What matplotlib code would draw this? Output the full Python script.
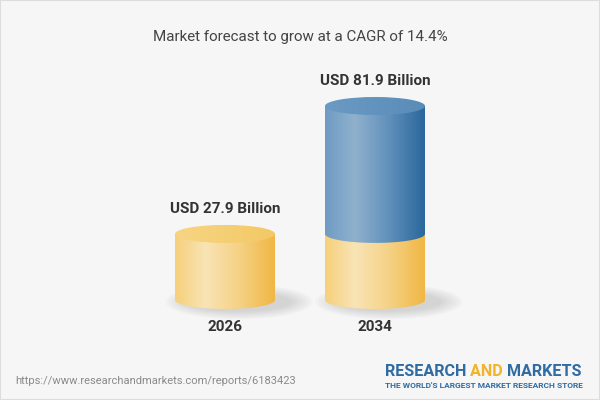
import numpy as np
import matplotlib
matplotlib.use("Agg")
import matplotlib.pyplot as plt
from matplotlib.path import Path
from matplotlib.patches import PathPatch, Ellipse, Rectangle
from matplotlib.colors import LinearSegmentedColormap

# ---- data ----
years = ["2026", "2034"]
values = [27.9, 81.9]
value_labels = ["USD 27.9 Billion", "USD 81.9 Billion"]
title = "Market forecast to grow at a CAGR of 14.4%"
source = "https://www.researchandmarkets.com/reports/6183423"

plt.rcParams['font.family'] = ['Roboto', 'DejaVu Sans']

fig = plt.figure(figsize=(6, 4), dpi=100)
fig.patch.set_facecolor("#f6f6f6")
ax = fig.add_axes([0, 0, 1, 1])
ax.set_facecolor("#f6f6f6")

# pixel mapping: category 0 -> x=225px, 1 -> 375px ; value 0 -> 300px from top, 81.9 -> 106px
px_per_x = 150.0
px_per_v = 194.0 / 81.9
ax.set_xlim(-225 / px_per_x, (600 - 225) / px_per_x)
ax.set_ylim(-100 / px_per_v, 300 / px_per_v)
ax.axis("off")

half_w = 50 / px_per_x        # cylinder half width (data units)
b = 9 / px_per_v              # ellipse half height (data units)

yellow_cmap = LinearSegmentedColormap.from_list(
    "y", [(0, "#f6d07a"), (0.3, "#f9e4b6"), (0.65, "#f5d184"), (1, "#f0b744")])
blue_cmap = LinearSegmentedColormap.from_list(
    "b", [(0, "#6f9cc4"), (0.3, "#90b1cd"), (0.65, "#5f8fbb"), (1, "#2a679b")])
yellow_top = LinearSegmentedColormap.from_list("yt", [(0, "#f7d584"), (1, "#f3c964")])
blue_top = LinearSegmentedColormap.from_list("bt", [(0, "#6b9bc4"), (1, "#5a8cb8")])

grad = np.linspace(0, 1, 256).reshape(1, -1)


def body(cx, y0, y1, cmap, z):
    t = np.linspace(np.pi, 2 * np.pi, 80)
    xs = cx + half_w * np.cos(t)
    ys = y0 + b * np.sin(t)
    verts = list(zip(xs, ys)) + [(cx + half_w, y1), (cx - half_w, y1), (xs[0], ys[0])]
    codes = [Path.MOVETO] + [Path.LINETO] * (len(verts) - 2) + [Path.CLOSEPOLY]
    path = Path(verts, codes)
    patch = PathPatch(path, facecolor="none", edgecolor="none")
    ax.add_patch(patch)
    im = ax.imshow(grad, cmap=cmap, aspect="auto", interpolation="bicubic",
                   extent=[cx - half_w, cx + half_w, y0 - b, y1], zorder=z)
    im.set_clip_path(patch)


def top(cx, y, cmap, z):
    e = Ellipse((cx, y), 2 * half_w, 2 * b, facecolor="none", edgecolor="none")
    ax.add_patch(e)
    im = ax.imshow(grad, cmap=cmap, aspect="auto", interpolation="bicubic",
                   extent=[cx - half_w, cx + half_w, y - b, y + b], zorder=z)
    im.set_clip_path(e)


def shadow(cx):
    for i in range(8):
        a = 0.04
        w = half_w * (1.05 + 0.06 * i)
        h = b * (1.1 + 0.12 * i)
        ax.add_patch(Ellipse((cx + half_w * 0.28, -b * 0.2), 2 * w, 2 * h,
                             facecolor="#8a8a8a", edgecolor="none", alpha=a, zorder=1))


base = values[0]
for i, (yr, v) in enumerate(zip(years, values)):
    shadow(i)
    if i == 0:
        body(i, 0, v, yellow_cmap, 2)
        top(i, v, yellow_top, 3)
    else:
        body(i, 0, base, yellow_cmap, 2)
        body(i, base, v, blue_cmap, 3)
        top(i, v, blue_top, 4)
    ax.annotate(value_labels[i], (i, v), xytext=(0, 25), textcoords="offset pixels",
                ha="center", va="center", fontsize=11, fontweight="bold", color="#333333")
    ax.annotate(yr, (i, 0), xytext=(0, -27), textcoords="offset pixels",
                ha="center", va="center", fontsize=11, fontweight="bold", color="#333333")

# title and footer
fig.text(0.5, 1 - 37 / 400, title, ha="center", va="center", fontsize=10.9, color="#444444")
fig.text(15 / 600, 1 - 381 / 400, source, ha="left", va="center", fontsize=8, color="#8a8a8a")

# logo
t1 = fig.text(385 / 600, 1 - 371 / 400, "RESEARCH ", ha="left", va="center",
              fontsize=11.6, fontweight="bold", color="#2f6ca3")
fig.canvas.draw()
r = fig.canvas.get_renderer()
bb = t1.get_window_extent(r)
t2 = fig.text(bb.x1 / 600, 1 - 371 / 400, "AND ", ha="left", va="center",
              fontsize=11.6, fontweight="bold", color="#f2b32b")
bb2 = t2.get_window_extent(r)
fig.text(bb2.x1 / 600, 1 - 371 / 400, "MARKETS", ha="left", va="center",
         fontsize=11.6, fontweight="bold", color="#2f6ca3")
fig.text(385 / 600, 1 - 386 / 400, "THE WORLD'S LARGEST MARKET RESEARCH STORE", ha="left",
         va="center", fontsize=6.0, fontweight="bold", color="#2f6ca3")

# border
fig.patches.append(Rectangle((0, 0), 1, 1, transform=fig.transFigure, fill=False,
                             edgecolor="#dddddd", linewidth=1.5, figure=fig))

fig.savefig("out.png", dpi=100, facecolor=fig.get_facecolor())
